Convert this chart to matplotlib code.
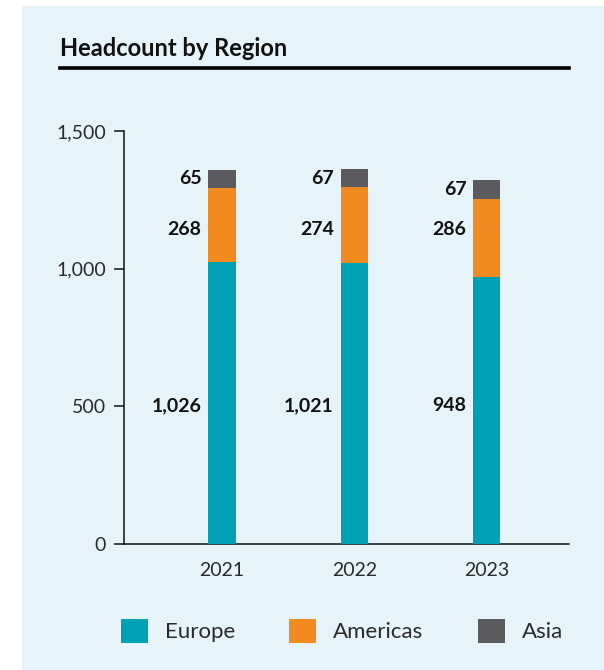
import matplotlib
matplotlib.use("Agg")
import matplotlib.pyplot as plt
from matplotlib.patches import Rectangle, Patch
from matplotlib.lines import Line2D
from matplotlib.ticker import FuncFormatter
import numpy as np

years = ["2021", "2022", "2023"]
# bar heights as drawn in the source (2023 Europe bar is drawn taller than its label)
europe = [1026, 1021, 968]
americas = [268, 274, 286]
asia = [65, 67, 67]
# printed value labels
europe_labels = ["1,026", "1,021", "948"]
americas_labels = ["268", "274", "286"]
asia_labels = ["65", "67", "67"]
regions = ["Europe", "Americas", "Asia"]
colors = ["#00A1B5", "#F28B1F", "#5B5A5E"]

plt.rcParams["font.family"] = ["Lato", "DejaVu Sans"]

W, H = 604, 670
fig = plt.figure(figsize=(W / 100, H / 100), dpi=100)
fig.patch.set_facecolor("white")

# light blue panel, drawn behind the axes
fig.patches.append(Rectangle((22 / W, 0), 1 - 22 / W, (H - 6) / H,
                             transform=fig.transFigure, facecolor="#E6F3F8",
                             edgecolor="none", zorder=-5))

# title + rule
fig.text(60 / W, (H - 48) / H, "Headcount by Region", fontsize=17,
         fontweight="bold", va="center", ha="left", color="#111111")
fig.add_artist(Line2D([60 / W, 569 / W], [(H - 68) / H] * 2,
                      transform=fig.transFigure, color="black", lw=2.6))

ax = fig.add_axes([124 / W, (H - 544) / H, (569 - 124) / W, (544 - 131) / H])
ax.set_facecolor("none")

x = np.arange(len(years))
w = 0.205
series = [europe, americas, asia]
texts = [europe_labels, americas_labels, asia_labels]
bottom = np.zeros(len(years))
centers = []
for vals, c in zip(series, colors):
    vals = np.array(vals)
    ax.bar(x, vals, w, bottom=bottom, color=c, zorder=3)
    centers.append(bottom + vals / 2)
    bottom = bottom + vals

# labels: Europe and Americas rows aligned, Asia at its own segment
label_y = [np.full(3, centers[0].mean()), np.full(3, centers[1].mean()), centers[2]]
for labs, ys in zip(texts, label_y):
    for i, (t, yv) in enumerate(zip(labs, ys)):
        ax.annotate(t, xy=(x[i] - w / 2, yv), xytext=(-5, 0),
                    textcoords="offset points", ha="right", va="center",
                    fontsize=14, fontweight="bold", color="#111111")

ax.set_xlim(-0.74, 2.62)
ax.set_ylim(0, 1500)
ax.set_yticks([0, 500, 1000, 1500])
ax.yaxis.set_major_formatter(FuncFormatter(lambda v, p: f"{int(v):,}"))
ax.set_xticks(x)
ax.set_xticklabels(years)

for s in ["top", "right"]:
    ax.spines[s].set_visible(False)
for s in ["left", "bottom"]:
    ax.spines[s].set_linewidth(1.1)
    ax.spines[s].set_color("#111111")

ax.tick_params(axis="y", length=7.5, width=1.1, pad=5.5, labelsize=14,
               labelcolor="#2a2a2a", color="#111111")
ax.tick_params(axis="x", length=0, pad=13, labelsize=14, labelcolor="#2a2a2a")

handles = [Patch(facecolor=c, edgecolor="none", label=r) for r, c in zip(regions, colors)]
fig.legend(handles=handles, loc="center", bbox_to_anchor=(342 / W, (H - 631) / H),
           ncol=3, frameon=False, fontsize=16, handlelength=1.215, handleheight=1.26,
           handletextpad=0.77, columnspacing=2.45, labelcolor="#2a2a2a")

fig.savefig("out.png", dpi=100, facecolor=fig.get_facecolor())
